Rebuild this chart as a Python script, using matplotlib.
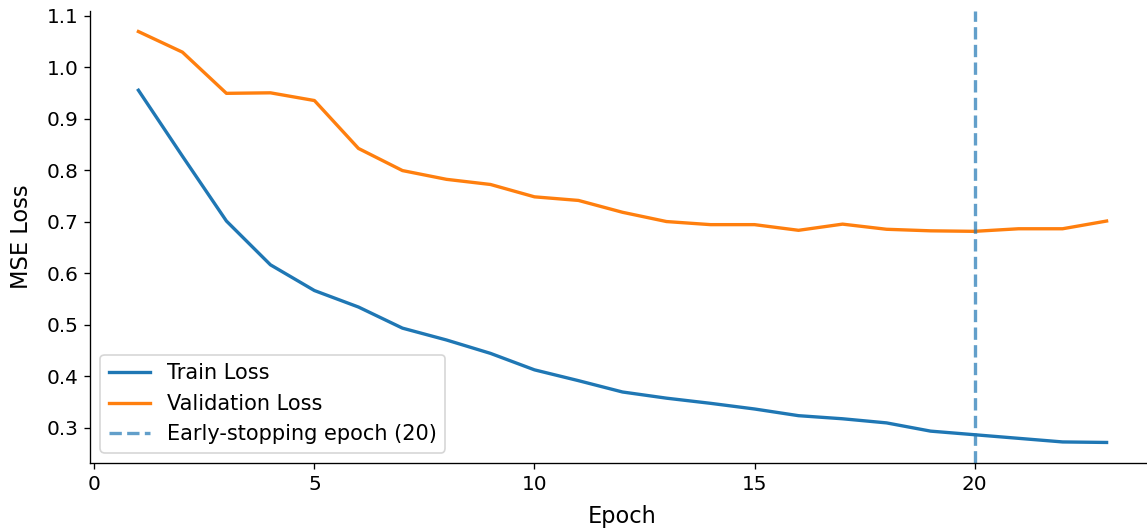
import matplotlib.pyplot as plt

epochs = list(range(1, 24))
train_loss = [0.955, 0.827, 0.701, 0.616, 0.566, 0.534, 0.493, 0.470, 0.444, 0.412,
              0.391, 0.369, 0.357, 0.347, 0.336, 0.323, 0.317, 0.309, 0.293, 0.286,
              0.279, 0.272, 0.271]
val_loss = [1.069, 1.029, 0.949, 0.950, 0.935, 0.842, 0.799, 0.782, 0.772, 0.748,
            0.741, 0.718, 0.700, 0.694, 0.694, 0.683, 0.695, 0.685, 0.682, 0.681,
            0.686, 0.686, 0.701]
best_epoch = 20

W, H = 1147, 528
fig = plt.figure(figsize=(W / 120, H / 120), dpi=120)
# the right end of the axes runs slightly past the image edge, as in the reference
ax = fig.add_axes([90 / W, 65 / H, 1065 / W, 452 / H])

ax.plot(epochs, train_loss, color="tab:blue", linewidth=2, label="Train Loss")
ax.plot(epochs, val_loss, color="tab:orange", linewidth=2, label="Validation Loss")
ax.axvline(best_epoch, color="tab:blue", linestyle="--", linewidth=2, alpha=0.7,
           label=f"Early-stopping epoch ({best_epoch})")

ax.set_xlabel("Epoch", fontsize=13.5, labelpad=6.5)
ax.set_ylabel("MSE Loss", fontsize=13.5, labelpad=8)
ax.tick_params(labelsize=12)
ax.spines["top"].set_visible(False)
ax.spines["right"].set_visible(False)
ax.legend(loc="lower left", fontsize=12.5)

fig.savefig("out.png", dpi=120)
